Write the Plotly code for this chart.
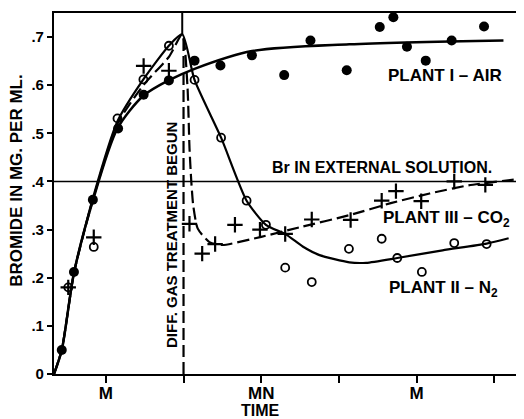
import plotly.graph_objects as go

# ---------------- data ----------------
# observed points (time in hours from start, bromide mg/ml)
air_x = [0.6, 1.54, 3.0, 4.95, 6.92, 8.87, 10.85, 12.85, 15.28, 17.77, 19.8, 22.6, 25.15, 26.2, 27.25, 28.7, 30.7, 33.2]
air_y = [0.05, 0.212, 0.362, 0.51, 0.58, 0.61, 0.651, 0.641, 0.662, 0.621, 0.693, 0.631, 0.721, 0.741, 0.68, 0.651, 0.693, 0.722]

n2_x = [1.1, 3.07, 4.9, 6.9, 8.87, 10.85, 12.9, 14.87, 16.36, 17.85, 19.9, 22.77, 25.3, 26.5, 28.4, 30.9, 33.4]
n2_y = [0.18, 0.264, 0.531, 0.612, 0.682, 0.611, 0.491, 0.36, 0.31, 0.221, 0.191, 0.26, 0.281, 0.241, 0.212, 0.272, 0.27]

co2_x = [1.1, 3.07, 6.92, 8.87, 10.46, 11.44, 12.44, 13.97, 15.9, 17.85, 19.9, 22.9, 25.3, 26.4, 28.35, 30.9, 33.3]
co2_y = [0.18, 0.284, 0.64, 0.63, 0.312, 0.25, 0.27, 0.31, 0.30, 0.291, 0.321, 0.32, 0.36, 0.38, 0.359, 0.40, 0.393]

# fitted curves drawn through the data (control points)
air_curve_x = [0, 0.6, 1.54, 3.0, 4.9, 6.9, 8.85, 10.85, 15.3, 22.8, 34.7]
air_curve_y = [0, 0.05, 0.21, 0.36, 0.51, 0.578, 0.61, 0.634, 0.671, 0.685, 0.693]

n2_curve_x = [0, 0.6, 1.54, 3.0, 4.9, 6.9, 8.9, 9.9, 10.85, 12.9, 14.87, 16.36, 17.9, 19.2, 20.5, 22.8, 24.1, 26.5, 30.0, 33.4, 35.1]
n2_curve_y = [0, 0.05, 0.21, 0.365, 0.525, 0.612, 0.683, 0.706, 0.611, 0.491, 0.36, 0.31, 0.29, 0.265, 0.247, 0.232, 0.231, 0.241, 0.257, 0.271, 0.282]

co2_curve_x = [0, 0.6, 1.54, 3.0, 4.9, 6.9, 8.9, 9.9, 10.3, 10.46, 10.6, 10.75, 11.1, 12.0, 13.0, 16.0, 19.0, 22.8, 26.0, 29.0, 32.0, 35.9]
co2_curve_y = [0, 0.05, 0.21, 0.362, 0.52, 0.6, 0.66, 0.706, 0.6, 0.47, 0.4, 0.35, 0.302, 0.274, 0.268, 0.285, 0.305, 0.33, 0.355, 0.375, 0.392, 0.405]

external_br = 0.4
treatment_time = 10
peak_time = 9.9
peak_value = 0.706

x_tick_vals = [4, 16, 28]
x_tick_text = ["M", "MN", "M"]
x_minor_tick_vals = [10, 22, 34]
y_tick_vals = [0, 0.1, 0.2, 0.3, 0.4, 0.5, 0.6, 0.7]
y_tick_text = ["0", ".1", ".2", ".3", ".4", ".5", ".6", ".7"]

FONT = "Liberation Sans"

fig = go.Figure()

# curves
fig.add_trace(go.Scatter(x=air_curve_x, y=air_curve_y, mode="lines",
                         line=dict(color="black", width=2.5, shape="spline", smoothing=0.8),
                         hoverinfo="skip", showlegend=False))
fig.add_trace(go.Scatter(x=n2_curve_x, y=n2_curve_y, mode="lines",
                         line=dict(color="black", width=2.2, shape="spline", smoothing=0.6),
                         hoverinfo="skip", showlegend=False))
fig.add_trace(go.Scatter(x=co2_curve_x, y=co2_curve_y, mode="lines",
                         line=dict(color="black", width=2.2, shape="spline", smoothing=0.6, dash="12px,5px"),
                         hoverinfo="skip", showlegend=False))

# reference lines
fig.add_trace(go.Scatter(x=[0, 36], y=[external_br, external_br], mode="lines",
                         line=dict(color="black", width=1.6), hoverinfo="skip", showlegend=False))
fig.add_trace(go.Scatter(x=[peak_time, peak_time], y=[peak_value, 0.75], mode="lines",
                         line=dict(color="black", width=2), hoverinfo="skip", showlegend=False))
fig.add_trace(go.Scatter(x=[treatment_time, treatment_time], y=[0, peak_value], mode="lines",
                         line=dict(color="black", width=2.2, dash="12px,5px"), hoverinfo="skip", showlegend=False))

# markers
fig.add_trace(go.Scatter(x=air_x, y=air_y, mode="markers", name="Plant I - Air",
                         marker=dict(symbol="circle", size=10, color="black"), showlegend=False))
fig.add_trace(go.Scatter(x=n2_x, y=n2_y, mode="markers", name="Plant II - N2",
                         marker=dict(symbol="circle-open", size=8, color="black", line=dict(width=1.8)),
                         showlegend=False))
fig.add_trace(go.Scatter(x=co2_x, y=co2_y, mode="markers", name="Plant III - CO2",
                         marker=dict(symbol="cross-thin-open", size=11, color="black", line=dict(width=2.2, color="black")),
                         showlegend=False))

def f(size):
    return dict(family=FONT, size=size, color="black", weight="bold")

fig.add_annotation(x=30.2, y=0.621, text="PLANT I – AIR", showarrow=False, font=f(17),
                   xanchor="center", yanchor="middle")
fig.add_annotation(x=25.35, y=0.429, text="Br IN EXTERNAL SOLUTION.", showarrow=False, font=f(16),
                   xanchor="center", yanchor="middle")
fig.add_annotation(x=30.3, y=0.323, text="PLANT III – CO<sub>2</sub>", showarrow=False, font=f(17),
                   xanchor="center", yanchor="middle")
fig.add_annotation(x=30.1, y=0.176, text="PLANT II – N<sub>2</sub>", showarrow=False, font=f(17),
                   xanchor="center", yanchor="middle")
fig.add_annotation(x=9.08, y=0.288, text="DIFF. GAS TREATMENT BEGUN", showarrow=False,
                   textangle=-90, font=f(15), xanchor="center", yanchor="middle")
fig.add_annotation(xref="paper", yref="paper", x=-0.081, y=0.536, text="BROMIDE IN MG. PER ML.",
                   showarrow=False, textangle=-90, font=f(17), xanchor="center", yanchor="middle")
fig.add_annotation(xref="paper", yref="paper", x=0.445, y=-0.101, text="TIME",
                   showarrow=False, font=f(16), xanchor="center", yanchor="middle")

# page body adds an 8px margin, so the figure is sized/margined to land the
# plot area at the reference's pixel position
fig.update_layout(
    width=516, height=411,
    margin=dict(l=46, r=3, t=4, b=45),
    paper_bgcolor="white", plot_bgcolor="white",
    font=dict(family=FONT, size=14, color="black", weight="bold"),
    xaxis=dict(range=[0, 35.9], tickvals=x_tick_vals, ticktext=x_tick_text,
               showgrid=False, zeroline=False, showline=True, mirror=True,
               linecolor="black", linewidth=2.2, ticks="outside", ticklen=7,
               tickwidth=2, tickcolor="black", tickfont=f(17),
               ticklabelstandoff=-5,
               minor=dict(tickvals=x_minor_tick_vals, ticks="outside", ticklen=7,
                          tickwidth=2, tickcolor="black", showgrid=False)),
    yaxis=dict(range=[0, 0.75], tickvals=y_tick_vals, ticktext=y_tick_text,
               showgrid=False, zeroline=False, showline=True, mirror=True,
               linecolor="black", linewidth=2.2, ticks="outside", ticklen=5,
               tickwidth=2, tickcolor="black", tickfont=f(15)),
)

fig.write_html("out.html")
